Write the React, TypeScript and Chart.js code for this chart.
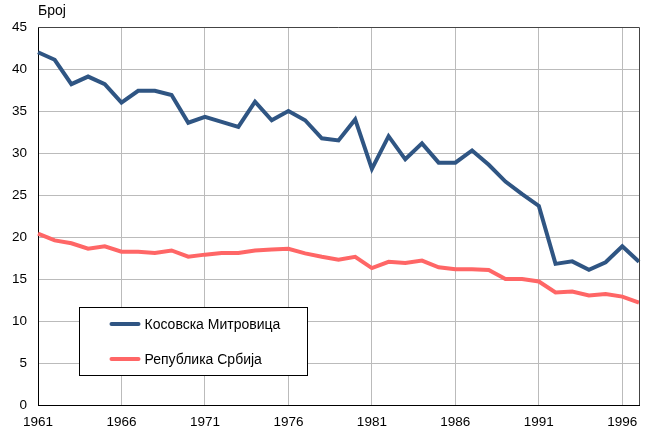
import React, { useEffect, useRef } from "react";
import { Chart, registerables } from "chart.js";

Chart.register(...registerables);

const years: string[] = [
  "1961","1962","1963","1964","1965","1966","1967","1968","1969","1970",
  "1971","1972","1973","1974","1975","1976","1977","1978","1979","1980",
  "1981","1982","1983","1984","1985","1986","1987","1988","1989","1990",
  "1991","1992","1993","1994","1995","1996","1997",
];

const kosovskaMitrovica: number[] = [
  42.0, 41.1, 38.2, 39.1, 38.2, 36.0, 37.4, 37.4, 36.9, 33.6,
  34.3, 33.7, 33.1, 36.1, 33.9, 35.0, 33.9, 31.75, 31.5, 34.0,
  28.1, 32.0, 29.25, 31.15, 28.85, 28.85, 30.3, 28.6, 26.6, 25.1,
  23.7, 16.8, 17.1, 16.1, 17.0, 18.9, 17.05,
];

const republikaSrbija: number[] = [
  20.4, 19.6, 19.25, 18.6, 18.9, 18.25, 18.25, 18.1, 18.4, 17.65,
  17.9, 18.1, 18.1, 18.4, 18.5, 18.6, 18.05, 17.65, 17.3, 17.65,
  16.3, 17.05, 16.9, 17.2, 16.4, 16.15, 16.15, 16.07, 15.0, 15.0,
  14.7, 13.4, 13.5, 13.05, 13.2, 12.9, 12.2,
];

const seriesNames: string[] = ["Косовска Митровица", "Република Србија"];
const seriesColors: string[] = ["#2F5583", "#FF6666"];
const yAxisTitle = "Број";

const FONT = "'Liberation Sans', Arial, sans-serif";

const overlayPlugin = {
  id: "overlay",
  afterDraw(chart: any) {
    const { ctx, chartArea } = chart;
    const { left, right, top, bottom } = chartArea;
    ctx.save();
    // top and right frame
    ctx.strokeStyle = "#444";
    ctx.lineWidth = 1;
    ctx.beginPath();
    ctx.moveTo(left, Math.round(top) + 0.5);
    ctx.lineTo(Math.round(right) + 0.5, Math.round(top) + 0.5);
    ctx.lineTo(Math.round(right) + 0.5, bottom);
    ctx.stroke();

    // axis title
    ctx.fillStyle = "#000";
    ctx.font = `14px ${FONT}`;
    ctx.textAlign = "left";
    ctx.textBaseline = "middle";
    ctx.fillText(yAxisTitle, left, 11);

    // legend box
    const bx = Math.round(left + 41) + 0.5;
    const by = 307.5;
    const bw = 228;
    const bh = 68;
    ctx.fillStyle = "#fff";
    ctx.fillRect(bx, by, bw, bh);
    ctx.strokeStyle = "#000";
    ctx.lineWidth = 1;
    ctx.strokeRect(bx, by, bw, bh);

    const rows = [324, 359];
    seriesNames.forEach((name, i) => {
      const y = rows[i];
      ctx.strokeStyle = seriesColors[i];
      ctx.lineWidth = 4;
      ctx.lineCap = "round";
      ctx.beginPath();
      ctx.moveTo(bx + 32, y);
      ctx.lineTo(bx + 59, y);
      ctx.stroke();
      ctx.fillStyle = "#000";
      ctx.font = `14px ${FONT}`;
      ctx.textAlign = "left";
      ctx.textBaseline = "middle";
      ctx.fillText(name, bx + 65, y + 1);
    });
    ctx.restore();
  },
};

export default function App() {
  const canvasRef = useRef<HTMLCanvasElement | null>(null);

  useEffect(() => {
    if (!canvasRef.current) return;
    const chart = new Chart(canvasRef.current, {
      type: "line",
      data: {
        labels: years,
        datasets: seriesNames.map((name, i) => ({
          label: name,
          data: i === 0 ? kosovskaMitrovica : republikaSrbija,
          borderColor: seriesColors[i],
          backgroundColor: seriesColors[i],
          borderWidth: 4,
          pointRadius: 0,
          tension: 0,
          fill: false,
        })),
      },
      options: {
        responsive: false,
        animation: false,
        layout: { padding: { left: 0, right: 7, top: 27, bottom: 0 } },
        plugins: {
          legend: { display: false },
          tooltip: { enabled: false },
          title: { display: false },
        },
        scales: {
          x: {
            type: "category",
            offset: false,
            grid: {
              drawTicks: false,
              color: (c: any) => (c.index % 5 === 0 && c.index !== 0 ? "#bbbbbb" : "rgba(0,0,0,0)"),
              lineWidth: 1,
            },
            border: { display: true, color: "#000", width: 1 },
            ticks: {
              autoSkip: false,
              maxRotation: 0,
              padding: 9,
              color: "#000",
              font: { family: FONT, size: 13.5 },
              callback: (_v: any, idx: number) => (idx % 5 === 0 ? years[idx] : ""),
            },
            afterFit: (scale: any) => {
              scale.height = 25;
            },
          },
          y: {
            min: 0,
            max: 45,
            grid: {
              drawTicks: false,
              color: (c: any) =>
                c.tick && (c.tick.value === 0 || c.tick.value === 45) ? "rgba(0,0,0,0)" : "#bbbbbb",
              lineWidth: 1,
            },
            border: { display: true, color: "#000", width: 1 },
            ticks: {
              stepSize: 5,
              padding: 11,
              color: "#000",
              font: { family: FONT, size: 13.5 },
            },
            afterFit: (scale: any) => {
              scale.width = 38;
            },
          },
        },
      },
      plugins: [overlayPlugin],
    });
    return () => chart.destroy();
  }, []);

  return (
    <div style={{ position: "absolute", left: 0, top: 0, width: 648, height: 430, background: "#fff" }}>
      <canvas ref={canvasRef} width={648} height={430} />
    </div>
  );
}
